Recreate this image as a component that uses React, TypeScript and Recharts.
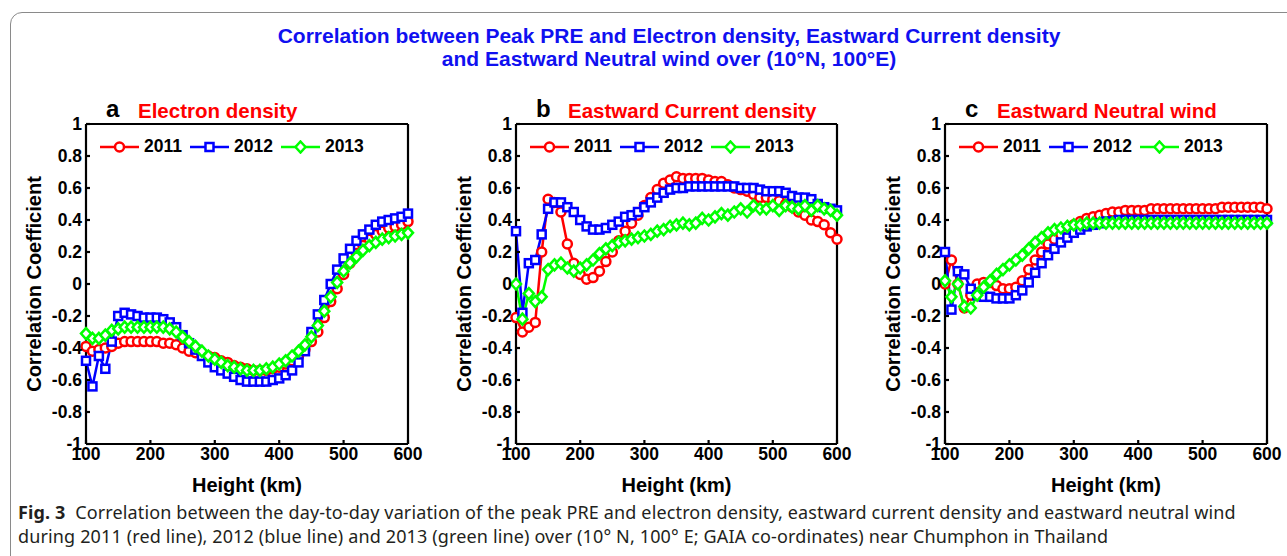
import React from "react";
import { LineChart, Line, XAxis, YAxis, Legend } from "recharts";

const heights = [
  100, 110, 120, 130, 140, 150, 160, 170, 180, 190, 200, 210, 220, 230, 240, 250, 260,
  270, 280, 290, 300, 310, 320, 330, 340, 350, 360, 370, 380, 390, 400, 410, 420, 430,
  440, 450, 460, 470, 480, 490, 500, 510, 520, 530, 540, 550, 560, 570, 580, 590, 600,
];

// panel a - electron density
const ne2011 = [
  -0.39, -0.42, -0.41, -0.4, -0.39, -0.37, -0.36, -0.36, -0.36, -0.36, -0.36, -0.36, -0.37,
  -0.37, -0.38, -0.4, -0.42, -0.43, -0.44, -0.45, -0.46, -0.48, -0.49, -0.51, -0.52, -0.53,
  -0.54, -0.54, -0.54, -0.53, -0.52, -0.5, -0.48, -0.45, -0.41, -0.36, -0.3, -0.21, -0.11,
  -0.03, 0.06, 0.13, 0.19, 0.24, 0.28, 0.31, 0.33, 0.35, 0.36, 0.37, 0.39,
];
const ne2012 = [
  -0.48, -0.64, -0.45, -0.53, -0.36, -0.2, -0.18, -0.19, -0.2, -0.21, -0.21, -0.21, -0.22,
  -0.24, -0.27, -0.32, -0.37, -0.41, -0.45, -0.49, -0.52, -0.54, -0.56, -0.58, -0.6, -0.61,
  -0.61, -0.61, -0.61, -0.6, -0.59, -0.57, -0.54, -0.49, -0.42, -0.3, -0.19, -0.1, 0.0,
  0.09, 0.16, 0.22, 0.27, 0.31, 0.34, 0.37, 0.39, 0.4, 0.41, 0.42, 0.44,
];
const ne2013 = [
  -0.31, -0.34, -0.34, -0.32, -0.29, -0.28, -0.27, -0.27, -0.27, -0.27, -0.27, -0.27, -0.27,
  -0.28, -0.3, -0.33, -0.36, -0.39, -0.42, -0.45, -0.47, -0.49, -0.51, -0.52, -0.53, -0.54,
  -0.54, -0.54, -0.53, -0.52, -0.5, -0.48, -0.45, -0.42, -0.38, -0.33, -0.26, -0.17, -0.08,
  0.01, 0.08, 0.13, 0.17, 0.21, 0.24, 0.26, 0.28, 0.29, 0.3, 0.31, 0.32,
];

// panel b - eastward current density
const jx2011 = [
  -0.21, -0.3, -0.27, -0.24, 0.2, 0.53, 0.51, 0.45, 0.25, 0.13, 0.06, 0.03, 0.04, 0.08,
  0.14, 0.2, 0.27, 0.33, 0.38, 0.43, 0.49, 0.54, 0.59, 0.63, 0.65, 0.67, 0.66, 0.66, 0.66,
  0.66, 0.65, 0.64, 0.64, 0.62, 0.6, 0.59, 0.58, 0.56, 0.54, 0.54, 0.53, 0.52, 0.5, 0.48,
  0.45, 0.43, 0.4, 0.39, 0.37, 0.32, 0.28,
];
const jx2012 = [
  0.33, -0.18, 0.13, 0.15, 0.31, 0.47, 0.51, 0.51, 0.48, 0.45, 0.4, 0.36, 0.34, 0.34, 0.35,
  0.37, 0.39, 0.42, 0.43, 0.45, 0.48, 0.51, 0.54, 0.57, 0.59, 0.6, 0.6, 0.61, 0.61, 0.61,
  0.61, 0.61, 0.61, 0.61, 0.61, 0.6, 0.6, 0.6, 0.59, 0.58, 0.58, 0.58, 0.57, 0.55, 0.54,
  0.54, 0.53, 0.5, 0.48, 0.47, 0.46,
];
const jx2013 = [
  0.0, -0.22, -0.06, -0.11, -0.08, 0.09, 0.12, 0.13, 0.1, 0.08, 0.1, 0.12, 0.15, 0.19, 0.22,
  0.24, 0.26, 0.27, 0.28, 0.29, 0.3, 0.31, 0.33, 0.34, 0.36, 0.37, 0.38, 0.37, 0.38, 0.41,
  0.4, 0.42, 0.44, 0.43, 0.45, 0.47, 0.45, 0.49, 0.47, 0.47, 0.49, 0.46, 0.49, 0.48, 0.47,
  0.49, 0.46, 0.49, 0.47, 0.46, 0.43,
];

// panel c - eastward neutral wind
const un2011 = [
  0.0, 0.15, 0.0, -0.15, -0.07, 0.0, 0.01, 0.01, -0.01, -0.03, -0.03, -0.02, 0.02, 0.09,
  0.15, 0.2, 0.25, 0.28, 0.31, 0.34, 0.37, 0.39, 0.41, 0.42, 0.43, 0.44, 0.45, 0.45, 0.46,
  0.46, 0.46, 0.46, 0.47, 0.47, 0.47, 0.47, 0.47, 0.47, 0.47, 0.47, 0.47, 0.47, 0.47, 0.48,
  0.48, 0.48, 0.48, 0.48, 0.48, 0.48, 0.47,
];
const un2012 = [
  0.2, -0.16, 0.08, 0.06, -0.03, -0.07, -0.08, -0.08, -0.09, -0.09, -0.09, -0.07, -0.04,
  0.01, 0.07, 0.13, 0.18, 0.22, 0.26, 0.29, 0.32, 0.34, 0.36, 0.37, 0.38, 0.39, 0.39, 0.4,
  0.4, 0.4, 0.4, 0.4, 0.4, 0.4, 0.4, 0.4, 0.4, 0.4, 0.4, 0.4, 0.4, 0.4, 0.4, 0.4, 0.4, 0.4,
  0.4, 0.4, 0.4, 0.4, 0.4,
];
const un2013 = [
  0.02, -0.08, 0.0, -0.14, -0.15, -0.07, -0.02, 0.02, 0.06, 0.09, 0.12, 0.15, 0.18, 0.22,
  0.26, 0.29, 0.32, 0.34, 0.35, 0.36, 0.37, 0.37, 0.38, 0.38, 0.38, 0.38, 0.38, 0.38, 0.38,
  0.38, 0.38, 0.38, 0.38, 0.38, 0.38, 0.38, 0.38, 0.38, 0.38, 0.38, 0.38, 0.38, 0.38, 0.38,
  0.38, 0.38, 0.38, 0.38, 0.38, 0.38, 0.38,
];

const xTicks = [100, 200, 300, 400, 500, 600];
const yTicks = [-1, -0.8, -0.6, -0.4, -0.2, 0, 0.2, 0.4, 0.6, 0.8, 1];

const years = [
  { key: "y2011", name: "2011", color: "#ff0000", shape: "circle" },
  { key: "y2012", name: "2012", color: "#0000ff", shape: "square" },
  { key: "y2013", name: "2013", color: "#00ff00", shape: "diamond" },
];

const font = "'Liberation Sans', Arial, Helvetica, sans-serif";

function Marker({ shape, cx, cy, color }: any) {
  if (shape === "circle")
    return <circle cx={cx} cy={cy} r={4.5} fill="#fff" stroke={color} strokeWidth={2.5} />;
  if (shape === "square")
    return (
      <rect x={cx - 4} y={cy - 4} width={8} height={8} fill="#fff" stroke={color} strokeWidth={2.5} />
    );
  return (
    <polygon
      points={`${cx},${cy - 5.5} ${cx + 5},${cy} ${cx},${cy + 5.5} ${cx - 5},${cy}`}
      fill="#fff"
      stroke={color}
      strokeWidth={2.5}
    />
  );
}

function LegendBox() {
  return (
    <div style={{ display: "flex", alignItems: "center", fontFamily: font, fontWeight: 700, fontSize: 17.5 }}>
      {years.map((s) => (
        <div key={s.key} style={{ display: "flex", alignItems: "center", marginRight: 8 }}>
          <svg width={39} height={14}>
            <line x1={0} y1={7} x2={39} y2={7} stroke={s.color} strokeWidth={2.5} />
            <Marker shape={s.shape} cx={19.5} cy={7} color={s.color} />
          </svg>
          <span style={{ marginLeft: 5, color: "#000" }}>{s.name}</span>
        </div>
      ))}
    </div>
  );
}

function Panel({ left, width, letter, title, d2011, d2012, d2013 }: any) {
  const data = heights.map((h, i) => ({ h, y2011: d2011[i], y2012: d2012[i], y2013: d2013[i] }));
  const plotLeft = 86;
  const plotRight = width - 12;
  const axisStyle = { stroke: "#000", strokeWidth: 2.2 };
  const tickFont = { fontSize: 17.5, fontWeight: "bold", fill: "#000", fontFamily: font };
  return (
    <div style={{ position: "absolute", left, top: 0, width: width + 20, height: 556 }}>
      <div style={{ position: "absolute", left: 106, top: 97, fontFamily: font, fontWeight: 700, fontSize: 24, lineHeight: 1 }}>
        {letter}
      </div>
      <div
        style={{
          position: "absolute", left: 138, top: 101, fontFamily: font, fontWeight: 700,
          fontSize: 20.5, lineHeight: 1, color: "#ff0000", whiteSpace: "nowrap",
        }}
      >
        {title}
      </div>
      <div
        style={{
          position: "absolute", left: 33.5, top: 284, transform: "translate(-50%, -50%) rotate(-90deg)",
          fontFamily: font, fontWeight: 700, fontSize: 20, lineHeight: 1, whiteSpace: "nowrap",
        }}
      >
        Correlation Coefficient
      </div>
      <div
        style={{
          position: "absolute", left: (plotLeft + plotRight) / 2 - 100, width: 200, top: 475,
          textAlign: "center", fontFamily: font, fontWeight: 700, fontSize: 20, lineHeight: 1,
        }}
      >
        Height (km)
      </div>
      <div style={{ position: "absolute", left: 0, top: 90 }}>
        <LineChart width={width + 20} height={406} data={data} margin={{ top: 33, right: 31, bottom: 0, left: 0 }}>
          <XAxis
            dataKey="h" type="number" domain={[100, 600]} ticks={xTicks} interval={0} height={52}
            axisLine={axisStyle} tickLine={axisStyle} tickSize={-4} tickMargin={8} tick={tickFont}
          />
          <XAxis
            xAxisId="top" orientation="top" dataKey="h" type="number" domain={[100, 600]} ticks={xTicks}
            interval={0} height={1} axisLine={axisStyle} tickLine={axisStyle} tickSize={-4} tick={false}
          />
          <YAxis
            type="number" domain={[-1, 1]} ticks={yTicks} interval={0} width={86}
            axisLine={axisStyle} tickLine={axisStyle} tickSize={-4} tickMargin={8} tick={tickFont}
          />
          <YAxis
            yAxisId="right" orientation="right" type="number" domain={[-1, 1]} ticks={yTicks} interval={0}
            width={1} axisLine={axisStyle} tickLine={axisStyle} tickSize={-4} tick={false}
          />
          {years.map((s) => (
            <Line
              key={s.key}
              dataKey={s.key}
              stroke={s.color}
              strokeWidth={2.5}
              activeDot={false}
              isAnimationActive={false}
              dot={(p: any) => (
                <Marker key={`${s.key}-${p.index}`} shape={s.shape} cx={p.cx} cy={p.cy} color={s.color} />
              )}
            />
          ))}
          <Legend
            layout="horizontal" verticalAlign="middle" align="center"
            content={() => <LegendBox />}
            wrapperStyle={{ top: 46, left: 100, width: "auto" }}
          />
        </LineChart>
      </div>
    </div>
  );
}

export default function App() {
  return (
    <div style={{ position: "absolute", left: 0, top: 0, width: 1287, height: 556, overflow: "hidden", background: "#fff" }}>
      <div
        style={{
          position: "absolute", left: 10, top: 12, width: 1400, height: 700,
          border: "1.5px solid #8a8a8a", borderRadius: 12,
        }}
      />
      <div
        style={{
          position: "absolute", left: 169, width: 1000, top: 24, textAlign: "center", fontFamily: font,
          fontWeight: 700, fontSize: 21, lineHeight: "23px", color: "#1010f0",
        }}
      >
        Correlation between Peak PRE and Electron density, Eastward Current density
        <br />
        and Eastward Neutral wind over (10°N, 100°E)
      </div>
      <Panel left={0} width={420} letter="a" title="Electron density" d2011={ne2011} d2012={ne2012} d2013={ne2013} />
      <Panel left={430} width={419} letter="b" title="Eastward Current density" d2011={jx2011} d2012={jx2012} d2013={jx2013} />
      <Panel left={859} width={420} letter="c" title="Eastward Neutral wind" d2011={un2011} d2012={un2012} d2013={un2013} />
      <div
        style={{
          position: "absolute", left: 18, top: 500, fontFamily: "'Noto Sans', sans-serif", fontSize: 18,
          letterSpacing: 0.14, lineHeight: "24px", color: "#231f20", whiteSpace: "nowrap",
        }}
      >
        <b>Fig. 3</b>&nbsp; Correlation between the day-to-day variation of the peak PRE and electron density, eastward current density and eastward neutral wind
        <br />
        during 2011 (red line), 2012 (blue line) and 2013 (green line) over (10° N, 100° E; GAIA co-ordinates) near Chumphon in Thailand
      </div>
    </div>
  );
}
